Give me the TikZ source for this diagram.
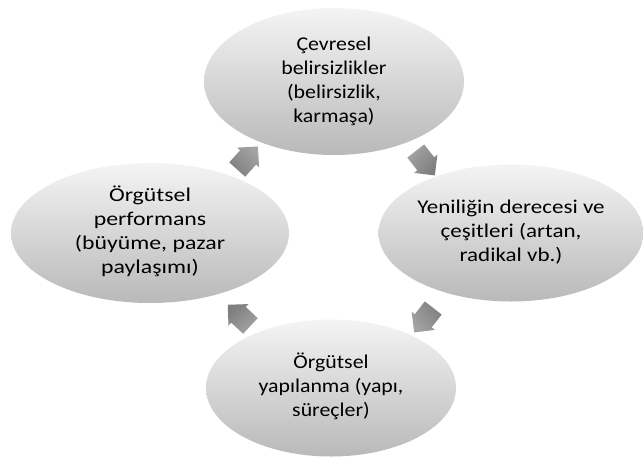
\documentclass[tikz,border=0pt]{standalone}
\usepackage{fontspec}
\setmainfont{Carlito}
\usetikzlibrary{shapes.geometric,shapes.arrows}
\definecolor{elltop}{HTML}{F4F4F4}
\definecolor{ellbot}{HTML}{B9B9B9}
\definecolor{arrtop}{HTML}{A4A4A4}
\definecolor{arrbot}{HTML}{7E7E7E}
\newcommand{\stretchtext}[2]{\scalebox{#1}[1]{\begin{tabular}{@{}c@{}}#2\end{tabular}}}
\tikzset{
  cyc/.style={ellipse, minimum width=#1, top color=elltop, bottom color=ellbot, draw=none,
    align=center, inner sep=0pt, font=\fontsize{19.5}{24}\selectfont},
  blockarr/.style={single arrow, draw=none, top color=arrtop, bottom color=arrbot,
    minimum height=31pt, inner xsep=2pt, inner ysep=10.5pt, single arrow head extend=4pt,
    single arrow head indent=0pt, shading angle=-#1, rotate=#1},
}
\begin{document}
\begin{tikzpicture}[x=1pt,y=-1pt]
\useasboundingbox (0,0) rectangle (643,466);
\node[cyc=260pt, minimum height=147pt] (top) at (334,81.5) {\stretchtext{1.12}{Çevresel\\belirsizlikler\\(belirsizlik,\\karmaşa)}};
\node[cyc=262pt, minimum height=137pt] (right) at (511,233) {\stretchtext{1.18}{Yeniliğin derecesi ve\\çeşitleri (artan,\\radikal vb.)}};
\node[cyc=250pt, minimum height=137pt] (bottom) at (331,388) {\stretchtext{1.12}{Örgütsel\\yapılanma (yapı,\\süreçler)}};
\node[cyc=278pt, minimum height=140pt] (left) at (150,233) {\stretchtext{1.22}{Örgütsel\\performans\\(büyüme, pazar\\paylaşımı)}};
\node[blockarr=48] (a1) at (244,162) {};
\node[blockarr=-52] (a2) at (422,159) {};
\node[blockarr=-128] (a3) at (427,316) {};
\node[blockarr=137] (a4) at (243,319) {};
\end{tikzpicture}
\end{document}
